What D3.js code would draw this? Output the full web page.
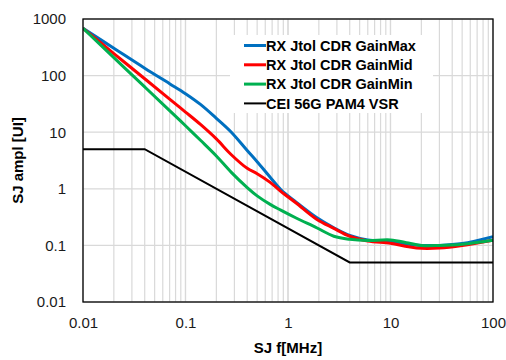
<!DOCTYPE html>
<html>
<head>
<meta charset="utf-8">
<script src="https://cdn.jsdelivr.net/npm/d3@7"></script>
<style>
  body { margin: 0; background: #fff; }
  svg text { font-family: 'Liberation Sans', Arial, sans-serif; }
</style>
</head>
<body>
<svg id="chart" width="506" height="360"></svg>
<script>
// frequencies [MHz] the curves were read at
var freqMHz = [0.01, 0.02, 0.04, 0.07, 0.1, 0.14, 0.2, 0.28, 0.4, 0.5, 0.67, 0.85, 1.2, 1.9, 2.8, 4, 6, 10, 15, 20, 30, 50, 100];
var gainMax = [685, 304, 135, 72, 48, 31, 17.6, 10, 4.75, 3.0, 1.6, 0.97, 0.58, 0.31, 0.205, 0.15, 0.125, 0.118, 0.105, 0.1, 0.1, 0.108, 0.143];
var gainMid = [685, 245, 88, 38.4, 22.7, 13.7, 7.6, 4.0, 2.3, 1.85, 1.3, 0.9, 0.56, 0.29, 0.2, 0.145, 0.12, 0.109, 0.095, 0.089, 0.09, 0.1, 0.124];
var gainMin = [685, 208, 63, 24, 13, 7.2, 3.8, 1.95, 1.05, 0.75, 0.53, 0.42, 0.305, 0.205, 0.145, 0.128, 0.122, 0.125, 0.11, 0.1, 0.1, 0.105, 0.124];

// CEI 56G PAM4 VSR mask
var maskFreq = [0.01, 0.04, 4, 100];
var maskAmpl = [5, 5, 0.05, 0.05];

var seriesNames = ['RX Jtol CDR GainMax', 'RX Jtol CDR GainMid', 'RX Jtol CDR GainMin', 'CEI 56G PAM4 VSR'];
var seriesColors = ['#0070C0', '#FF0000', '#00B050', '#000000'];

var xTicks = [0.01, 0.1, 1, 10, 100];
var xTickLabels = ['0.01', '0.1', '1', '10', '100'];
var yTicks = [0.01, 0.1, 1, 10, 100, 1000];
var yTickLabels = ['0.01', '0.1', '1', '10', '100', '1000'];

var margin = {left: 83, top: 19, right: 13, bottom: 58};
var width = 506, height = 360;

var svg = d3.select('#chart');

var x = d3.scaleLog().domain([0.01, 100]).range([margin.left, width - margin.right]);
var y = d3.scaleLog().domain([0.01, 1000]).range([height - margin.bottom, margin.top]);

svg.append('defs').append('clipPath').attr('id', 'plotclip')
  .append('rect')
  .attr('x', x.range()[0]).attr('y', y.range()[1])
  .attr('width', x.range()[1] - x.range()[0])
  .attr('height', y.range()[0] - y.range()[1]);

// gridlines: minor + major verticals, major horizontals only
var vgrid = [];
for (var d = 0.01; d < 100; d *= 10) {
  for (var k = 1; k <= 10; k++) vgrid.push(+(d * k).toPrecision(3));
}
svg.append('g').attr('class', 'vgrid')
  .selectAll('line').data(vgrid).enter().append('line')
  .attr('x1', function (d) { return x(d) }).attr('x2', function (d) { return x(d) })
  .attr('y1', y.range()[1]).attr('y2', y.range()[0])
  .style('stroke', '#d9d9d9').style('stroke-width', 1.2);

svg.append('g').attr('class', 'hgrid')
  .selectAll('line').data(yTicks).enter().append('line')
  .attr('x1', x.range()[0]).attr('x2', x.range()[1])
  .attr('y1', function (d) { return y(d) }).attr('y2', function (d) { return y(d) })
  .style('stroke', '#d9d9d9').style('stroke-width', 1.2);

// axes (labels only)
var xAxis = svg.append('g')
  .attr('transform', 'translate(0,' + y.range()[0] + ')')
  .call(d3.axisBottom(x).tickValues(xTicks).tickSize(0).tickPadding(15)
    .tickFormat(function (d, i) { return xTickLabels[i] }));
var yAxis = svg.append('g')
  .attr('transform', 'translate(' + x.range()[0] + ',0)')
  .call(d3.axisLeft(y).tickValues(yTicks).tickSize(0).tickPadding(17)
    .tickFormat(function (d, i) { return yTickLabels[i] }));
[xAxis, yAxis].forEach(function (a) {
  a.select('.domain').remove();
  a.selectAll('text').style('font-size', '15px').style('fill', '#1a1a1a')
    .style('font-family', "'Liberation Sans', Arial, sans-serif");
});

// data lines
var line = d3.line()
  .x(function (d) { return x(d[0]) })
  .y(function (d) { return y(d[1]) })
  .curve(d3.curveCatmullRom.alpha(0.5));
var straight = d3.line()
  .x(function (d) { return x(d[0]) })
  .y(function (d) { return y(d[1]) });

var curves = [gainMax, gainMid, gainMin];
var plot = svg.append('g').attr('clip-path', 'url(#plotclip)');

plot.append('path')
  .datum(maskFreq.map(function (f, i) { return [f, maskAmpl[i]] }))
  .attr('d', straight)
  .style('fill', 'none').style('stroke', seriesColors[3]).style('stroke-width', 2);

// draw blue first, then red, green on top (as in the flat region of the original)
[0, 1, 2].forEach(function (s) {
  plot.append('path')
    .datum(freqMHz.map(function (f, i) { return [f, curves[s][i]] }))
    .attr('d', line)
    .style('fill', 'none')
    .style('stroke', seriesColors[s])
    .style('stroke-width', 3)
    .style('stroke-linejoin', 'round');
});

// plot frame
svg.append('rect')
  .attr('x', x.range()[0]).attr('y', y.range()[1])
  .attr('width', x.range()[1] - x.range()[0])
  .attr('height', y.range()[0] - y.range()[1])
  .style('fill', 'none').style('stroke', '#000').style('stroke-width', 1.3);

// legend
var legend = svg.append('g').attr('class', 'legend');
legend.append('rect')
  .attr('x', 230).attr('y', 35).attr('width', 203).attr('height', 78)
  .style('fill', '#fff');
var item = legend.selectAll('g.item').data(seriesNames).enter().append('g')
  .attr('class', 'item')
  .attr('transform', function (d, i) { return 'translate(244,' + (45.5 + i * 19.3) + ')' });
item.append('line')
  .attr('x1', 0).attr('x2', 22).attr('y1', 0).attr('y2', 0)
  .style('stroke', function (d, i) { return seriesColors[i] })
  .style('stroke-width', function (d, i) { return i == 3 ? 2 : 3 });
item.append('text')
  .attr('x', 22).attr('dy', '0.36em')
  .style('font-size', '14.5px').style('font-weight', 'bold').style('fill', '#000')
  .text(function (d) { return d });

// axis titles
svg.append('text')
  .attr('x', (x.range()[0] + x.range()[1]) / 2).attr('y', 353)
  .attr('text-anchor', 'middle')
  .style('font-size', '15px').style('font-weight', 'bold')
  .text('SJ f[MHz]');
svg.append('text')
  .attr('transform', 'translate(23,' + ((y.range()[0] + y.range()[1]) / 2) + ') rotate(-90)')
  .attr('text-anchor', 'middle')
  .style('font-size', '15px').style('font-weight', 'bold')
  .text('SJ ampl [UI]');
</script>
</body>
</html>
